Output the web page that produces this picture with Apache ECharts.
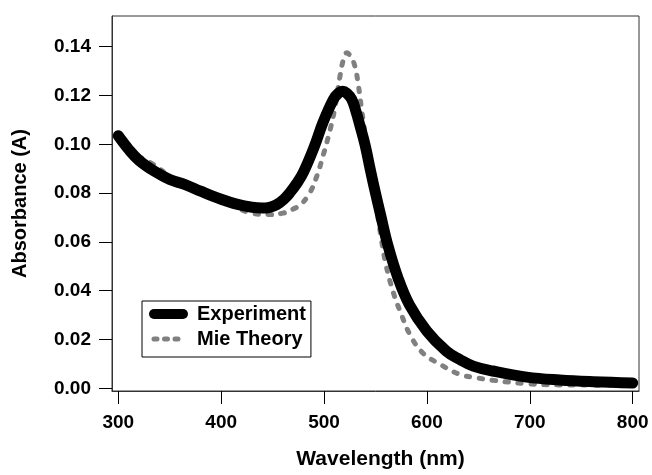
<!DOCTYPE html>
<html>
<head>
<meta charset="utf-8">
<script src="https://cdn.jsdelivr.net/npm/echarts@6/dist/echarts.min.js"></script>
<style>
html,body{margin:0;padding:0;background:#fff;}
#chart{width:652px;height:475px;}
</style>
</head>
<body>
<div id="chart"></div>
<script>
// Experiment (measured absorbance)
var expWavelength = [300, 310, 320, 335, 350, 365, 380, 400, 415, 430, 440, 447, 454, 461, 467, 474, 480, 490, 499, 509, 514, 518, 522, 527, 531, 535, 540, 545, 550, 555, 562, 572, 583, 600, 619, 632, 645, 664, 697, 729, 762, 800];
var expAbsorbance = [0.1035, 0.0980, 0.0935, 0.0890, 0.0856, 0.0835, 0.0808, 0.0775, 0.0755, 0.0742, 0.0739, 0.0742, 0.0753, 0.0775, 0.0803, 0.0843, 0.0886, 0.0985, 0.1090, 0.1184, 0.1210, 0.1218, 0.1210, 0.1184, 0.1135, 0.1075, 0.0995, 0.0895, 0.0800, 0.0710, 0.0587, 0.0451, 0.0342, 0.0234, 0.0152, 0.0118, 0.0091, 0.0071, 0.0046, 0.0034, 0.0027, 0.0022];
// Mie theory
var mieWavelength = [320, 335, 350, 370, 390, 410, 430, 445, 460, 470, 477, 486, 493, 499, 506, 511, 515.5, 519, 522, 526, 530, 533, 536.5, 540, 545, 550, 555, 560, 567, 574, 583.5, 596, 613, 632, 647, 664, 697, 729, 760, 800];
var mieAbsorbance = [0.0950, 0.0915, 0.0870, 0.0828, 0.0782, 0.0748, 0.0718, 0.0712, 0.0718, 0.0735, 0.0752, 0.0800, 0.0870, 0.0953, 0.1062, 0.1160, 0.1280, 0.1350, 0.1375, 0.1360, 0.1320, 0.1252, 0.1143, 0.1040, 0.0910, 0.0770, 0.0630, 0.0510, 0.0397, 0.0315, 0.0220, 0.0145, 0.0098, 0.0057, 0.0044, 0.0033, 0.0019, 0.0014, 0.0013, 0.0012];
// Tick labels
var xTicks = [300, 400, 500, 600, 700, 800];
var yTicks = [0.00, 0.02, 0.04, 0.06, 0.08, 0.10, 0.12, 0.14];
var seriesNames = ['Experiment', 'Mie Theory'];

function pairs(xs, ys) { return xs.map(function (x, i) { return [x, ys[i]]; }); }

var font = 'Liberation Sans, Arial, Helvetica, sans-serif';
var chart = echarts.init(document.getElementById('chart'), null, {renderer: 'canvas'});
chart.setOption({
  animation: false,
  backgroundColor: '#fff',
  grid: {left: 112, top: 16, right: 13, bottom: 79, show: true, borderColor: '#333', borderWidth: 1},
  legend: {
    left: 142, top: 301,
    orient: 'vertical',
    borderColor: '#000', borderWidth: 1,
    padding: [3, 5, 8, 7],
    itemGap: 5,
    itemWidth: 29, itemHeight: 14,
    textStyle: {fontFamily: font, fontWeight: 'bold', fontSize: 20, color: '#000', padding: [0, 0, 0, 9]},
    data: [
      {name: seriesNames[0], itemStyle: {opacity: 0}, lineStyle: {width: 10, cap: 'round'}},
      {name: seriesNames[1], itemStyle: {opacity: 0}, lineStyle: {width: 5, cap: 'round', type: [3, 7.5]}}
    ]
  },
  xAxis: {
    type: 'value', min: 293.9, max: 806.1,
    name: 'Wavelength (nm)', nameLocation: 'middle', nameGap: 58,
    nameTextStyle: {fontFamily: font, fontWeight: 'bold', fontSize: 21, color: '#000', padding: [0, 0, 0, 10]},
    axisLine: {show: true, onZero: false, lineStyle: {color: '#333', width: 1}},
    axisTick: {show: true, inside: false, length: 13, customValues: xTicks, lineStyle: {color: '#000', width: 1}},
    axisLabel: {customValues: xTicks, margin: 22, fontFamily: font, fontWeight: 'bold', fontSize: 19, color: '#000'},
    splitLine: {show: false}
  },
  yAxis: {
    type: 'value', min: -0.0011, max: 0.1526,
    name: 'Absorbance (A)', nameLocation: 'middle', nameGap: 82,
    nameTextStyle: {fontFamily: font, fontWeight: 'bold', fontSize: 20, color: '#000'},
    axisLine: {show: true, onZero: false, lineStyle: {color: '#333', width: 1}},
    axisTick: {show: true, inside: false, length: 13, customValues: yTicks, lineStyle: {color: '#000', width: 1}},
    axisLabel: {customValues: yTicks, margin: 21, fontFamily: font, fontWeight: 'bold', fontSize: 19, color: '#000',
      formatter: function (v) { return v.toFixed(2); }},
    splitLine: {show: false}
  },
  series: [
    {
      name: seriesNames[1], type: 'line', data: pairs(mieWavelength, mieAbsorbance),
      showSymbol: false, symbol: 'none', smooth: 0.4, z: 2,
      lineStyle: {color: '#808080', width: 5, cap: 'round', type: [3.5, 9.5]},
      itemStyle: {color: '#808080'}
    },
    {
      name: seriesNames[0], type: 'line', data: pairs(expWavelength, expAbsorbance),
      showSymbol: false, symbol: 'none', smooth: 0.4, z: 3,
      lineStyle: {color: '#000', width: 11, cap: 'round', join: 'round'},
      itemStyle: {color: '#000'}
    }
  ]
});
</script>
</body>
</html>
